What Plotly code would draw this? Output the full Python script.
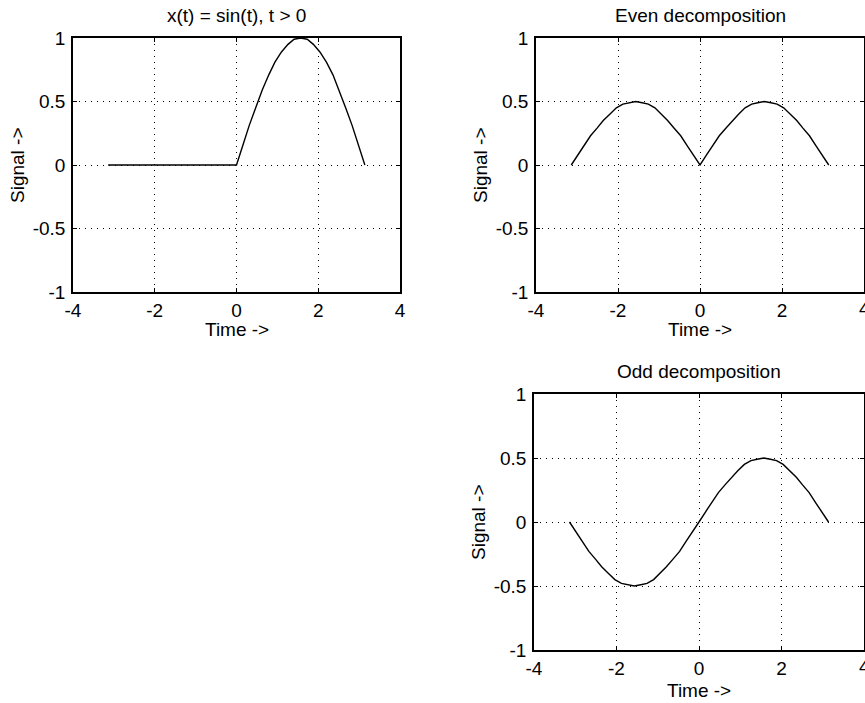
import plotly.graph_objects as go

# ---- data ----
t = [-3.14, -2.98, -2.83, -2.67, -2.51, -2.36, -2.20, -2.04, -1.88, -1.73, -1.57,
     -1.41, -1.26, -1.10, -0.94, -0.79, -0.63, -0.47, -0.31, -0.16, 0.00,
     0.16, 0.31, 0.47, 0.63, 0.79, 0.94, 1.10, 1.26, 1.41, 1.57,
     1.73, 1.88, 2.04, 2.20, 2.36, 2.51, 2.67, 2.83, 2.98, 3.14]
x_signal = [0, 0, 0, 0, 0, 0, 0, 0, 0, 0, 0,
            0, 0, 0, 0, 0, 0, 0, 0, 0, 0,
            0.16, 0.31, 0.45, 0.59, 0.71, 0.81, 0.89, 0.95, 0.99, 1.00,
            0.99, 0.95, 0.89, 0.81, 0.71, 0.59, 0.45, 0.31, 0.16, 0]
even_part = [0, 0.08, 0.15, 0.23, 0.29, 0.35, 0.40, 0.45, 0.48, 0.49, 0.50,
             0.49, 0.48, 0.45, 0.40, 0.35, 0.29, 0.23, 0.15, 0.08, 0,
             0.08, 0.15, 0.23, 0.29, 0.35, 0.40, 0.45, 0.48, 0.49, 0.50,
             0.49, 0.48, 0.45, 0.40, 0.35, 0.29, 0.23, 0.15, 0.08, 0]
odd_part = [0, -0.08, -0.15, -0.23, -0.29, -0.35, -0.40, -0.45, -0.48, -0.49, -0.50,
            -0.49, -0.48, -0.45, -0.40, -0.35, -0.29, -0.23, -0.15, -0.08, 0,
            0.08, 0.15, 0.23, 0.29, 0.35, 0.40, 0.45, 0.48, 0.49, 0.50,
            0.49, 0.48, 0.45, 0.40, 0.35, 0.29, 0.23, 0.15, 0.08, 0]

x_ticks = [-4, -2, 0, 2, 4]
x_ticktext = ["-4", "-2", "0", "2", "4"]
y_ticks = [-1, -0.5, 0, 0.5, 1]
y_ticktext = ["-1", "-0.5", "0", "0.5", "1"]

titles = ["x(t) = sin(t), t > 0", "Even decomposition", "Odd decomposition"]
xlabel = "Time ->"
ylabel = "Signal ->"

W, H = 865, 703
FONT = "Liberation Sans, Arial, Helvetica, sans-serif"
FS = 19

# plot boxes in pixels: (left, right, top, bottom, xlabel offset)
boxes = [(73, 400, 38, 292, 37), (536, 864, 38, 292, 37), (534, 864, 394, 650, 40)]
series = [x_signal, even_part, odd_part]

fig = go.Figure()
for i, (box, ys) in enumerate(zip(boxes, series)):
    n = "" if i == 0 else str(i + 1)
    fig.add_trace(go.Scatter(x=t, y=ys, mode="lines",
                             line=dict(color="black", width=1.4),
                             xaxis="x" + n, yaxis="y" + n, showlegend=False,
                             hoverinfo="skip"))
    l, r, tp, b, xo = box
    common = dict(showline=True, linecolor="black", linewidth=1.5, mirror="ticks",
                  ticks="inside", ticklen=4, tickcolor="black", tickwidth=1,
                  showgrid=True, gridcolor="black", gridwidth=1, griddash="1px,5px",
                  zeroline=False, tickfont=dict(family=FONT, size=FS, color="black"),
                  fixedrange=True, automargin=False)
    fig.update_layout(**{
        "xaxis" + n: dict(domain=[l / W, r / W], range=[-4, 4], tickvals=x_ticks,
                          ticktext=x_ticktext, anchor="y" + n, **common),
        "yaxis" + n: dict(domain=[1 - b / H, 1 - tp / H], range=[-1, 1], tickvals=y_ticks,
                          ticktext=y_ticktext, anchor="x" + n, ticklabelstandoff=2, **common),
    })
    cx = (l + r) / 2 / W
    fig.add_annotation(text=titles[i], x=cx, y=1 - (tp - 23) / H, xref="paper", yref="paper",
                       showarrow=False, font=dict(family=FONT, size=FS, color="black"),
                       xanchor="center", yanchor="middle")
    fig.add_annotation(text=xlabel, x=cx, y=1 - (b + xo) / H, xref="paper", yref="paper",
                       showarrow=False, font=dict(family=FONT, size=FS, color="black"),
                       xanchor="center", yanchor="middle")
    fig.add_annotation(text=ylabel, x=(l - 56) / W, y=1 - (tp + b) / 2 / H, xref="paper",
                       yref="paper", showarrow=False, textangle=-90,
                       font=dict(family=FONT, size=FS, color="black"),
                       xanchor="center", yanchor="middle")
    if i > 0:
        # last x tick label, which runs past the page edge and is cut off there
        fig.add_annotation(text=x_ticktext[-1], x=x_ticks[-1], xref="x" + n,
                           y=1 - (b + 16) / H, yref="paper", showarrow=False,
                           font=dict(family=FONT, size=FS, color="black"),
                           xanchor="center", yanchor="middle")

fig.update_layout(width=W, height=H, margin=dict(l=0, r=0, t=0, b=0, autoexpand=False),
                  paper_bgcolor="white", plot_bgcolor="white")

fig.write_html("out.html")
